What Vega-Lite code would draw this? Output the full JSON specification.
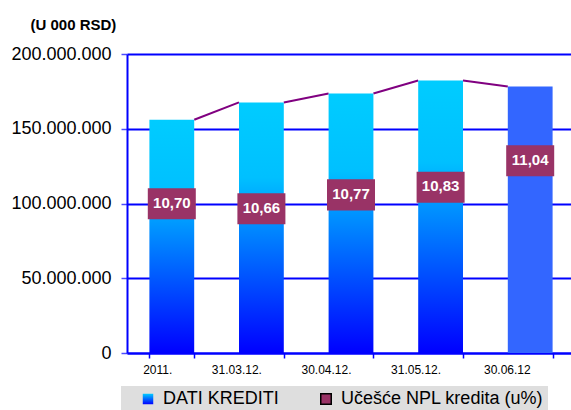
{
  "$schema": "https://vega.github.io/schema/vega-lite/v6.json",
  "width": 448,
  "height": 299,
  "autosize": "none",
  "padding": {"left": 127, "top": 54, "right": 0, "bottom": 57},
  "background": "#ffffff",
  "config": {
    "locale": {"number": {"decimal": ",", "thousands": ".", "grouping": [3], "currency": ["", ""]}},
    "font": "Liberation Sans",
    "view": {"stroke": null}
  },
  "data": {
    "values": [
      {"period": "2011.", "krediti": 156000000, "npl": 10.70},
      {"period": "31.03.12.", "krediti": 167600000, "npl": 10.66},
      {"period": "30.04.12.", "krediti": 173600000, "npl": 10.77},
      {"period": "31.05.12.", "krediti": 182300000, "npl": 10.83},
      {"period": "30.06.12", "krediti": 178200000, "npl": 11.04}
    ]
  },
  "layer": [
    {
      "layer": [
        {
          "transform": [
            {"window": [
              {"op": "lead", "field": "period", "as": "nextPeriod"},
              {"op": "lead", "field": "krediti", "as": "nextKrediti"}
            ]},
            {"filter": "datum.nextPeriod != null"}
          ],
          "mark": {"type": "rule", "color": "#800080", "strokeWidth": 2, "xOffset": 22.4, "x2Offset": -22.4},
          "encoding": {
            "x": {"field": "period", "type": "nominal", "sort": null},
            "x2": {"field": "nextPeriod"},
            "y": {"field": "krediti", "type": "quantitative"},
            "y2": {"field": "nextKrediti"}
          }
        },
        {
          "mark": {"type": "bar"},
          "encoding": {
            "x": {
              "field": "period", "type": "nominal", "sort": null,
              "scale": {"paddingInner": 0.5, "paddingOuter": 0.25},
              "axis": {
                "title": null, "tickBand": "extent", "labelAngle": 0,
                "domainColor": "#0000ff", "domainWidth": 2,
                "tickColor": "#0000ff", "tickWidth": 1.5, "tickSize": 5,
                "labelFontSize": 12, "labelPadding": 11, "labelColor": "#000000",
                "labelFont": "Liberation Sans"
              }
            },
            "y": {
              "field": "krediti", "type": "quantitative",
              "scale": {"domain": [0, 200000000], "nice": false},
              "axis": {
                "title": "(U 000 RSD)", "titleAngle": 0, "titleX": -97, "titleY": -30,
                "titleAlign": "left", "titleBaseline": "middle",
                "titleFontSize": 15, "titleFontWeight": "bold", "titleFont": "Liberation Sans", "titleColor": "#000000",
                "values": [0, 50000000, 100000000, 150000000, 200000000],
                "format": ",d",
                "labelFontSize": 18, "labelFont": "Liberation Sans", "labelColor": "#000000", "labelPadding": 10,
                "tickSize": 6, "tickColor": "#4d4dff", "tickWidth": 1.5,
                "domainColor": "#0000ff", "domainWidth": 2,
                "grid": true, "gridColor": "#0000ff", "gridWidth": 2
              }
            },
            "fill": {
              "condition": {"test": "datum.period === '30.06.12'", "value": "#3366ff"},
              "value": {
                "gradient": "linear", "x1": 0, "y1": 0, "x2": 0, "y2": 1,
                "stops": [
                  {"offset": 0, "color": "#00ccff"},
                  {"offset": 0.3, "color": "#00c0ff"},
                  {"offset": 1, "color": "#0000ff"}
                ]
              }
            }
          }
        }
      ]
    },
    {
      "layer": [
        {
          "mark": {"type": "point", "shape": "M-1,-0.646L1,-0.646L1,0.646L-1,0.646Z", "size": 2304, "filled": true, "opacity": 1, "strokeWidth": 0},
          "encoding": {
            "x": {"field": "period", "type": "nominal", "sort": null},
            "y": {"field": "npl", "type": "quantitative", "scale": {"domain": [9.523, 11.881], "nice": false, "zero": false}, "axis": null},
            "fill": {"field": "period", "type": "nominal", "scale": {"range": ["#993366"]}, "legend": null},
            "stroke": {
              "datum": "Učešće NPL kredita (u%)", "type": "nominal",
              "scale": {"domain": ["DATI KREDITI", "Učešće NPL kredita (u%)"], "range": ["transparent", "#000000"]},
              "legend": {
                "orient": "none", "legendX": -6, "legendY": 332,
                "direction": "horizontal",
                "title": "\u00a0", "titleOrient": "left", "titlePadding": 14, "titleFontSize": 10,
                "fillColor": "#dedede", "padding": 4,
                "symbolType": "square", "symbolSize": 110,
                "symbolFillColor": {"expr": "datum.value === 'DATI KREDITI' ? {gradient: 'linear', x1: 0, y1: 0, x2: 0, y2: 1, stops: [{offset: 0, color: '#00ccff'}, {offset: 1, color: '#0000ff'}]} : '#993366'"},
                "symbolStrokeWidth": 1.5,
                "symbolOpacity": 1,
                "labelFontSize": 18, "labelFont": "Liberation Sans", "labelColor": "#000000",
                "labelOffset": 6, "columnPadding": 38, "labelLimit": 400,
                "labelExpr": "datum.label === 'DATI KREDITI' ? datum.label : datum.label + '\u00a0\u00a0\u00a0\u00a0\u00a0\u00a0'"
              }
            }
          }
        },
        {
          "mark": {"type": "text", "color": "#ffffff", "fontWeight": "bold", "fontSize": 15, "font": "Liberation Sans", "baseline": "middle", "align": "center", "dy": -1},
          "encoding": {
            "x": {"field": "period", "type": "nominal", "sort": null},
            "y": {"field": "npl", "type": "quantitative"},
            "text": {"field": "npl", "type": "quantitative", "format": ".2f"}
          }
        }
      ]
    }
  ],
  "resolve": {"scale": {"y": "independent"}}
}
